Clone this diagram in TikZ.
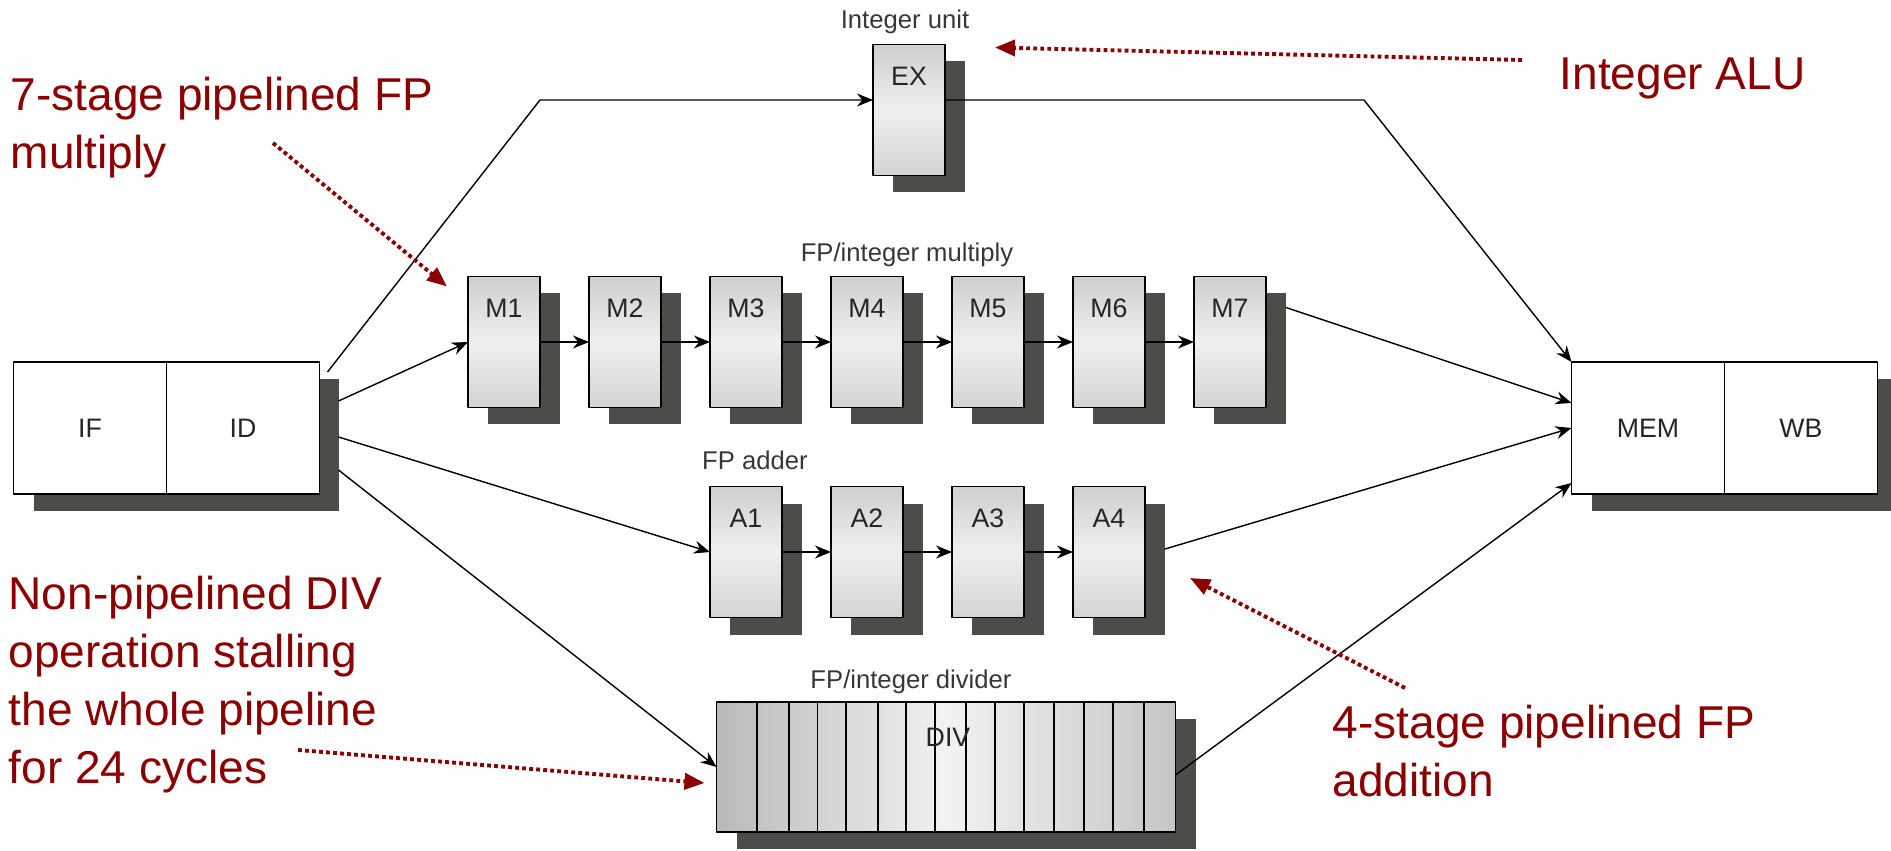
\documentclass[tikz,border=0pt]{standalone}
\usepackage{fontspec}
\setmainfont{Liberation Sans}
\usetikzlibrary{arrows.meta,shadows,calc,positioning}
\definecolor{shadowgray}{RGB}{75,77,73}
\definecolor{notered}{RGB}{139,0,0}
\definecolor{labelgray}{RGB}{55,55,55}
\begin{document}
\begin{tikzpicture}[x=.1mm, y=-.1mm, line join=round, >={Stealth[length=1.6mm,width=1.3mm]},
	boxshadow/.style={drop shadow={shadow xshift=2mm, shadow yshift=-1.7mm, fill=shadowgray, opacity=1}},
	plainbox/.style={draw, line width=.55pt, fill=white, minimum width=15.3mm, minimum height=13.2mm, outer sep=0pt, inner sep=0pt, boxshadow, text=black!85, font=\fontsize{7.6}{9}\selectfont},
	stage/.style={draw, line width=.55pt, minimum width=7.2mm, minimum height=13.1mm, outer sep=0pt, boxshadow, top color=gray!38, bottom color=gray!34, middle color=gray!12},
	stagetext/.style={text=black!85, font=\fontsize{7.6}{9}\selectfont},
	grouplabel/.style={text=labelgray, font=\fontsize{7.3}{9}\selectfont, anchor=base},
	note/.style={text=notered, font=\fontsize{13.1}{16.5}\selectfont, align=left, anchor=north west, inner sep=0pt},
	noteline/.style={notered, line width=1.1pt, dash pattern=on 1.1pt off .9pt, -{Triangle[length=2mm,width=1.6mm]}},
	link/.style={->, line width=.4pt}]
	\useasboundingbox (0,0) rectangle (1891,851);
	\def\stagegap{121}
	% front and back of the pipe
	\node[plainbox] (if) at (90,428) {IF};
	\node[plainbox, right=0pt of if] (id) {ID};
	\node[plainbox] (mem) at (1648,428) {MEM};
	\node[plainbox, right=0pt of mem] (wb) {WB};
	% functional units
	\node[stage] (ex) at (909,110) {};
	\path (ex.north) ++(0,32) node[stagetext] {EX};
	\foreach \i in {1,...,7} {
		\node[stage] (m\i) at ({504+\stagegap*(\i-1)},342) {};
		\path (m\i.north) ++(0,32) node[stagetext] {M\i};
	}
	\foreach \i in {1,...,4} {
		\node[stage] (a\i) at ({746+\stagegap*(\i-1)},552) {};
		\path (a\i.north) ++(0,32) node[stagetext] {A\i};
	}
	\node[stage, minimum width=45.9mm, minimum height=13mm, left color=gray!55, right color=gray!45, middle color=gray!10] (div) at (946,767) {};
	\foreach \f in {.088,.157,.220,.283,.351,.413,.476,.543,.607,.670,.736,.801,.863,.931}
		\draw[line width=.55pt] ($(div.north west)!\f!(div.north east)$) -- ($(div.south west)!\f!(div.south east)$);
	\path (div.north) ++(2,35) node[stagetext] {DIV};
	\node[grouplabel] (exname) at ([shift={(-4,-16)}]ex.north) {Integer unit};
	\node[grouplabel] (mname) at ([shift={(40,-15)}]m4.north) {FP/integer multiply};
	\node[grouplabel] (aname) at ([shift={(9,-17)}]a1.north) {FP adder};
	\node[grouplabel] (divname) at ([shift={(-35,-14)}]div.north) {FP/integer divider};
	% connections
	\coordinate (exleft) at (540,100);
	\coordinate (exright) at (1364,100);
	\draw[link] ([shift={(8,10)}]id.north east) -- (exleft) -- (exleft -| ex.west);
	\draw[link] (exright -| ex.east) -- (exright) -- (mem.north west);
	\draw[link] ([shift={(19,39)}]id.north east) -- (m1.west);
	\draw[link] ([shift={(19,75)}]id.north east) -- (a1.west);
	\draw[link] ([shift={(19,108)}]id.north east) -- (div.west);
	\foreach \i [evaluate=\i as \j using int(\i+1)] in {1,...,6}
		\draw[link] (m\i.east) -- (m\j.west);
	\foreach \i [evaluate=\i as \j using int(\i+1)] in {1,...,3}
		\draw[link] (a\i.east) -- (a\j.west);
	\draw[link] ([shift={(20,31)}]m7.north east) -- ([yshift=-4.1mm]mem.north west);
	\draw[link] ([shift={(20,-3)}]a4.east) -- ([yshift=-6.6mm]mem.north west);
	\draw[link] ([yshift=-.8mm]div.east) -- ([yshift=1.1mm]mem.south west);
	% notes
	\node[note, anchor=base west] (alunote) at (1559,90) {Integer ALU};
	\node[note] (mulnote) at (10,76) {7-stage pipelined FP\\multiply};
	\node[note] (divnote) at (8,575) {Non-pipelined DIV\\operation stalling\\the whole pipeline\\for 24 cycles};
	\node[note] (addnote) at (1332,704) {4-stage pipelined FP\\addition};
	\draw[noteline] ([shift={(-37,-30)}]alunote.base west) -- ([shift={(50,3)}]ex.north east);
	\draw[noteline] ([shift={(263,67)}]mulnote.north west) -- ([shift={(-21,10)}]m1.north west);
	\draw[noteline] ([shift={(290,175)}]divnote.north west) -- ([shift={(-12,16)}]div.west);
	\draw[noteline] ([shift={(73,-16)}]addnote.north west) -- ([shift={(45,26)}]a4.east);
\end{tikzpicture}
\end{document}
